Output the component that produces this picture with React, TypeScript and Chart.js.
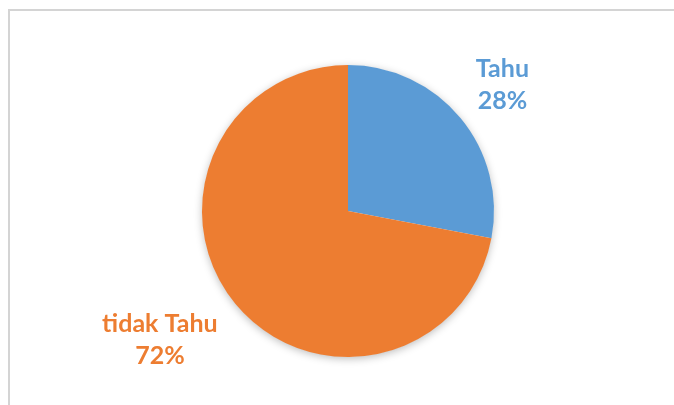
import React, { useEffect, useRef } from "react";
import { Chart, registerables } from "chart.js";

Chart.register(...registerables);

const categories = ["Tahu", "tidak Tahu"];
const percentages = [28, 72];
const sliceColors = ["#5B9BD5", "#ED7D31"];
// label placement: radial factor along slice mid-angle, plus pixel nudge
const labelRadial = [1.355, 1.45];
const labelNudge = [[2, 0], [-25, -6]];

const labelFont = "bold 25px Lato";

const framePlugin = {
  id: "frame",
  beforeDraw(chart: any) {
    const ctx = chart.ctx;
    ctx.save();
    ctx.fillStyle = "#ffffff";
    ctx.fillRect(0, 0, chart.width, chart.height);
    ctx.strokeStyle = "#d4d4d4";
    ctx.lineWidth = 2;
    ctx.beginPath();
    ctx.moveTo(9, chart.height + 5);
    ctx.lineTo(9, 10);
    ctx.lineTo(chart.width + 5, 10);
    ctx.stroke();
    ctx.restore();
  },
  beforeDatasetsDraw(chart: any) {
    const meta = chart.getDatasetMeta(0);
    const arc = meta.data[0];
    if (!arc) return;
    const { x, y, outerRadius } = arc.getProps(["x", "y", "outerRadius"], true);
    const ctx = chart.ctx;
    ctx.save();
    ctx.shadowColor = "rgba(0,0,0,0.28)";
    ctx.shadowBlur = 9;
    ctx.shadowOffsetY = 2;
    ctx.fillStyle = "#ffffff";
    ctx.beginPath();
    ctx.arc(x, y, outerRadius - 0.5, 0, Math.PI * 2);
    ctx.fill();
    ctx.restore();
  },
  afterDatasetsDraw(chart: any) {
    const meta = chart.getDatasetMeta(0);
    const ctx = chart.ctx;
    ctx.save();
    ctx.font = labelFont;
    ctx.textAlign = "center";
    ctx.textBaseline = "alphabetic";
    meta.data.forEach((arc: any, i: number) => {
      const { x, y, outerRadius, startAngle, endAngle } = arc.getProps(
        ["x", "y", "outerRadius", "startAngle", "endAngle"],
        true
      );
      const mid = (startAngle + endAngle) / 2;
      const r = outerRadius * labelRadial[i];
      const cx = x + Math.cos(mid) * r + labelNudge[i][0];
      const cy = y + Math.sin(mid) * r + labelNudge[i][1];
      ctx.fillStyle = sliceColors[i];
      ctx.fillText(categories[i], cx, cy - 8);
      ctx.fillText(percentages[i] + "%", cx, cy + 24);
    });
    ctx.restore();
  },
};

export default function App() {
  const ref = useRef<HTMLCanvasElement | null>(null);
  useEffect(() => {
    if (!ref.current) return;
    const chart = new Chart(ref.current, {
      type: "pie",
      data: {
        labels: categories,
        datasets: [
          {
            data: percentages,
            backgroundColor: sliceColors,
            borderWidth: 0,
          },
        ],
      },
      options: {
        animation: false,
        responsive: false,
        maintainAspectRatio: false,
        layout: { padding: { top: 65, bottom: 48, left: 22, right: 0 } },
        plugins: {
          legend: { display: false },
          tooltip: { enabled: false },
        },
      },
      plugins: [framePlugin],
    });
    return () => chart.destroy();
  }, []);
  return (
    <div style={{ position: "fixed", left: 0, top: 0, width: 674, height: 405 }}>
      <canvas ref={ref} width={674} height={405} style={{ display: "block" }} />
    </div>
  );
}
